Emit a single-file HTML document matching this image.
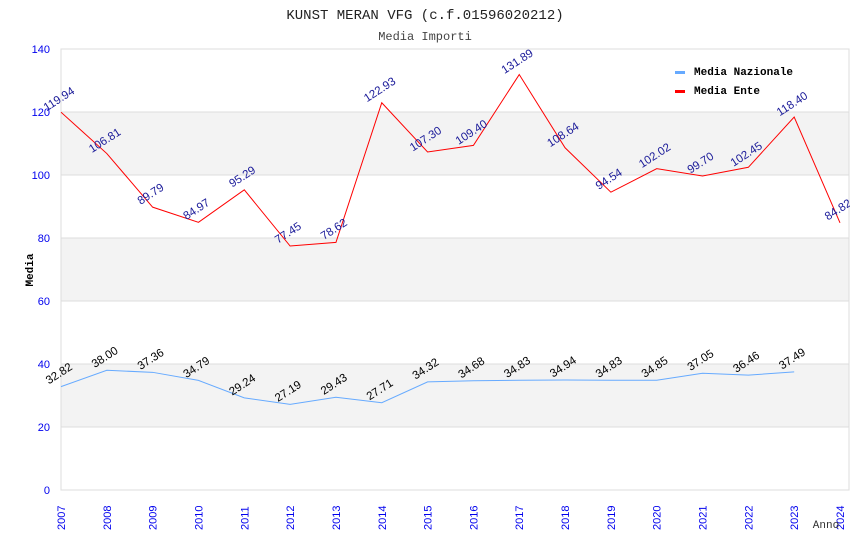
<!DOCTYPE html>
<html><head><meta charset="utf-8"><style>
body{margin:0;background:#fff;}
svg{display:block;}
</style></head><body>
<svg id="chart" width="850" height="550" xmlns="http://www.w3.org/2000/svg">
<text x="425" y="19" text-anchor="middle" font-family="Liberation Mono, monospace" font-size="14" fill="#222">KUNST MERAN VFG (c.f.01596020212)</text>
<text x="425" y="40" text-anchor="middle" font-family="Liberation Mono, monospace" font-size="12" fill="#444">Media Importi</text>
<g id="bands"></g>
<rect x="61" y="49" width="788" height="441" fill="none" stroke="#ddd"/>
<g id="yticks"></g><g id="xticks"></g>
<g id="series"></g>
<text x="33" y="270" transform="rotate(-90 33 270)" text-anchor="middle" font-family="Liberation Mono, monospace" font-size="11" font-weight="bold" fill="#000">Media</text>
<text x="826" y="528" text-anchor="middle" font-family="Liberation Mono, monospace" font-size="11" fill="#333">Anno</text>
<g>
<g><rect x="675" y="71" width="10" height="3" fill="#66aaff"/><text x="694" y="75" font-family="Liberation Mono, monospace" font-size="11" font-weight="bold" fill="#000">Media Nazionale</text></g>
<g><rect x="675" y="90" width="10" height="3" fill="#ff0000"/><text x="694" y="94" font-family="Liberation Mono, monospace" font-size="11" font-weight="bold" fill="#000">Media Ente</text></g>
</g>
</svg>
<script>
const years=[2007,2008,2009,2010,2011,2012,2013,2014,2015,2016,2017,2018,2019,2020,2021,2022,2023,2024];
const enteValues=[119.94,106.81,89.79,84.97,95.29,77.45,78.62,122.93,107.30,109.40,131.89,108.64,94.54,102.02,99.70,102.45,118.40,84.82];
const nazValues=[32.82,38.00,37.36,34.79,29.24,27.19,29.43,27.71,34.32,34.68,34.83,34.94,34.83,34.85,37.05,36.46,37.49];
const yTicks=[0,20,40,60,80,100,120,140];
const NS='http://www.w3.org/2000/svg';
const X=y=>61+(y-2007)*(840-61)/17;
const Y=v=>490-v*441/140;
function mk(tag,attrs,parent){const e=document.createElementNS(NS,tag);for(const k in attrs)e.setAttribute(k,attrs[k]);parent.appendChild(e);return e;}
const bands=document.getElementById('bands'),yt=document.getElementById('yticks'),xt=document.getElementById('xticks'),ser=document.getElementById('series');
for(let i=0;i<yTicks.length-1;i++){
  if(i%2===1){const b=mk('rect',{x:61,y:Y(yTicks[i+1]),width:788,height:Y(yTicks[i])-Y(yTicks[i+1]),fill:'#f3f3f3'},bands);
  
  }
}
yTicks.forEach(t=>{
  const l=mk('line',{x1:61,x2:849,y1:Y(t),y2:Y(t),stroke:'#ddd'},yt);
  
  
  const tx=mk('text',{x:50,y:Y(t)+4,'text-anchor':'end','font-family':'Liberation Sans, sans-serif','font-size':'11',fill:'#0000ee'},yt);
  tx.textContent=t;
  
  
});
years.forEach(y=>{
  const tx=mk('text',{x:X(y)+4,y:530,transform:`rotate(-90 ${X(y)+4} 530)`,'font-family':'Liberation Sans, sans-serif','font-size':'11',fill:'#0000ee'},xt);
  tx.textContent=y;
  
  
});
function series(vals,color,labelColor,name){
  const pts=vals.map((v,i)=>X(years[i])+','+Y(v)).join(' ');
  const pl=mk('polyline',{points:pts,fill:'none',stroke:color,'stroke-width':1},ser);
  
  
  vals.forEach((v,i)=>{
    const x=X(years[i]),y=Y(v)-10;
    const t=mk('text',{x:x,y:y,transform:`rotate(-33 ${x} ${y})`,'text-anchor':'middle','font-family':'Liberation Sans, sans-serif','font-size':'11.5',fill:labelColor},ser);
    t.textContent=v.toFixed(2);
    
    
  });
}
series(nazValues,'#66aaff','#000','media-nazionale');
series(enteValues,'#ff0000','#1a1a99','media-ente');
</script>
</body></html>
